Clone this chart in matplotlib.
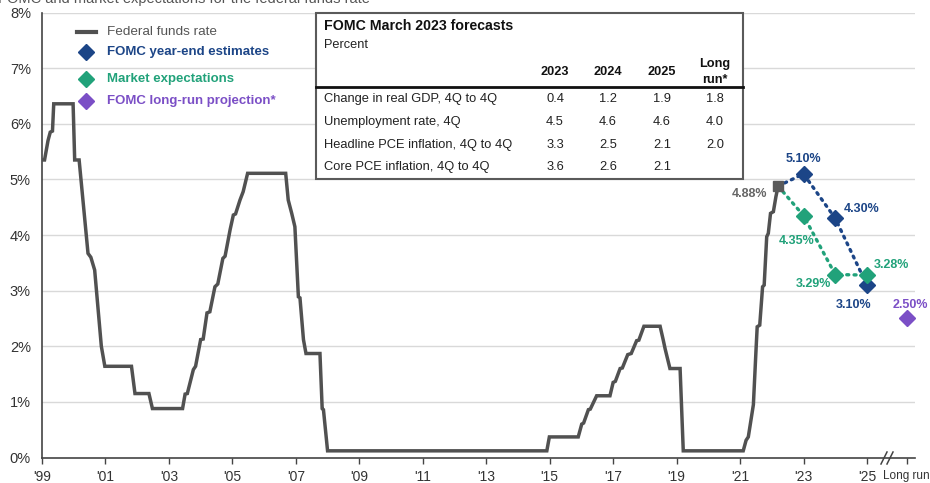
import matplotlib
matplotlib.use("Agg")
import matplotlib.pyplot as plt
from matplotlib.patches import Rectangle

plt.rcParams['font.family'] = ['Liberation Sans', 'DejaVu Sans']

# ---- Federal funds rate (axis-year units, percent) ----
ffr_x = [1999.00, 1999.08, 1999.19, 1999.26, 1999.33, 1999.37, 1999.98, 2000.03, 2000.17,
         2000.45, 2000.54, 2000.66, 2000.87, 2000.98, 2001.82, 2001.93, 2002.37, 2002.48,
         2003.43, 2003.51, 2003.58, 2003.77, 2003.84, 2004.00, 2004.08, 2004.20, 2004.29,
         2004.45, 2004.54, 2004.70, 2004.77, 2004.93, 2005.03, 2005.10, 2005.24, 2005.34,
         2005.48, 2006.68, 2006.76, 2006.87, 2006.97, 2007.08, 2007.13, 2007.24, 2007.32,
         2007.76, 2007.83, 2007.87, 2008.00, 2014.91, 2014.99, 2015.90, 2016.01, 2016.07,
         2016.22, 2016.28, 2016.48, 2016.90, 2017.00, 2017.07, 2017.22, 2017.29, 2017.46,
         2017.57, 2017.74, 2017.81, 2017.97, 2018.48, 2018.58, 2018.64, 2018.79, 2019.11,
         2019.21, 2021.10, 2021.19, 2021.26, 2021.42, 2021.50, 2021.54, 2021.62, 2021.71,
         2021.76, 2021.84, 2021.89, 2021.96, 2022.05, 2022.13, 2022.20]
ffr_y = [5.35, 5.35, 5.70, 5.85, 5.87, 6.36, 6.36, 5.35, 5.35,
         3.67, 3.60, 3.37, 2.00, 1.64, 1.64, 1.15, 1.15, 0.88,
         0.88, 1.14, 1.15, 1.58, 1.64, 2.12, 2.13, 2.60, 2.62,
         3.07, 3.12, 3.58, 3.62, 4.10, 4.36, 4.38, 4.63, 4.78,
         5.11, 5.11, 4.63, 4.39, 4.15, 2.89, 2.87, 2.12, 1.87,
         1.87, 0.88, 0.86, 0.12, 0.12, 0.37, 0.37, 0.60, 0.62,
         0.86, 0.87, 1.11, 1.11, 1.35, 1.37, 1.60, 1.61, 1.85,
         1.87, 2.10, 2.11, 2.36, 2.36, 2.11, 1.95, 1.60, 1.60,
         0.12, 0.12, 0.31, 0.37, 0.95, 1.90, 2.35, 2.38, 3.07,
         3.10, 3.97, 4.03, 4.39, 4.42, 4.69, 4.88]
ffr_last_label = "4.88%"

# ---- Projections ----
proj_x = [2023, 2024, 2025]
fomc_est = [5.10, 4.30, 3.10]
market_exp = [4.35, 3.29, 3.28]
longrun_x = 2026.25
longrun_val = 2.50

# ---- Axis ticks ----
tick_years = list(range(1999, 2026, 2))
tick_labels = ["'%02d" % (y % 100) for y in tick_years]
yticks = list(range(0, 9))
ytick_labels = ["%d%%" % v for v in yticks]

# ---- Table ----
tbl_title = "FOMC March 2023 forecasts"
tbl_sub = "Percent"
tbl_cols = ["2023", "2024", "2025"]
tbl_rows = ["Change in real GDP, 4Q to 4Q", "Unemployment rate, 4Q",
            "Headline PCE inflation, 4Q to 4Q", "Core PCE inflation, 4Q to 4Q"]
tbl_vals = [["0.4", "1.2", "1.9", "1.8"],
            ["4.5", "4.6", "4.6", "4.0"],
            ["3.3", "2.5", "2.1", "2.0"],
            ["3.6", "2.6", "2.1", ""]]

# ---- Legend ----
legend_items = ["Federal funds rate", "FOMC year-end estimates",
                "Market expectations", "FOMC long-run projection*"]

chart_title = "FOMC and market expectations for the federal funds rate"

C_FFR = "#515151"
C_NAVY = "#1c4587"
C_GREEN = "#21a27a"
C_PURPLE = "#7b4fc6"
C_TXT = "#333333"
C_GRID = "#d9d9d9"

W, H = 930, 483
fig = plt.figure(figsize=(W / 100, H / 100), dpi=100)
fig.patch.set_facecolor("white")

left_px, right_px, top_px, bot_px = 42, 915, 12.6, 457.5
ax = fig.add_axes([left_px / W, 1 - bot_px / H, (right_px - left_px) / W, (bot_px - top_px) / H])
ax.set_xlim(1999, 1999 + (right_px - left_px) / 31.73)
ax.set_ylim(0, 8)

for v in yticks[1:]:
    ax.axhline(v, color=C_GRID, lw=1.0, zorder=0)

ax.set_yticks(yticks)
ax.set_yticklabels(ytick_labels)
ax.tick_params(axis="y", length=0, pad=8, labelsize=10.5, labelcolor=C_TXT)
ax.set_xticks(tick_years + [longrun_x])
ax.set_xticklabels(tick_labels + ["Long run"])
ax.tick_params(axis="x", length=4, width=1, color="#444444", pad=5, labelsize=10, labelcolor=C_TXT)
ax.get_xticklabels()[-1].set_fontsize(8.5)

for s in ["top", "right"]:
    ax.spines[s].set_visible(False)
for s in ["left", "bottom"]:
    ax.spines[s].set_color("#444444")
    ax.spines[s].set_linewidth(1.2)

# federal funds rate line
ax.plot(ffr_x, ffr_y, color=C_FFR, lw=2.5, solid_joinstyle="miter", zorder=3)
ax.plot(ffr_x[-1], ffr_y[-1], marker="s", ms=7, color="#5a5a5a", zorder=5)
ax.annotate(ffr_last_label, (ffr_x[-1], ffr_y[-1]), xytext=(-8, -6), textcoords="offset points",
            ha="right", va="center", fontsize=9, fontweight="bold", color="#666666")

# projection paths
ax.plot([ffr_x[-1]] + proj_x, [ffr_y[-1]] + fomc_est, color=C_NAVY, lw=2.4,
        linestyle=(0, (0.6, 1.6)), dash_capstyle="round", zorder=4)
ax.plot([ffr_x[-1]] + proj_x, [ffr_y[-1]] + market_exp, color=C_GREEN, lw=2.4,
        linestyle=(0, (0.6, 1.6)), dash_capstyle="round", zorder=4)
ax.plot(proj_x, fomc_est, "D", ms=8, color=C_NAVY, zorder=6, clip_on=False)
ax.plot(proj_x, market_exp, "D", ms=8, color=C_GREEN, zorder=6, clip_on=False)
ax.plot([longrun_x], [longrun_val], "D", ms=8, color=C_PURPLE, zorder=6, clip_on=False)

def lab(x, y, dx, dy, color, ha="center"):
    ax.annotate("%.2f%%" % y, (x, y), xytext=(dx, dy), textcoords="offset points",
                ha=ha, va="center", fontsize=9, fontweight="bold", color=color)

lab(proj_x[0], fomc_est[0], 0, 11, C_NAVY)
lab(proj_x[1], fomc_est[1], 6, 7, C_NAVY, ha="left")
lab(proj_x[2], fomc_est[2], -10, -14, C_NAVY)
lab(proj_x[0], market_exp[0], -5, -18, C_GREEN)
lab(proj_x[1], market_exp[1], -16, -7, C_GREEN)
lab(proj_x[2], market_exp[2], 5, 7, C_GREEN, ha="left")
lab(longrun_x, longrun_val, 3, 10, C_PURPLE)

# overlay in pixel coordinates for legend, table and axis break
ov = fig.add_axes([0, 0, 1, 1], facecolor="none")
ov.set_xlim(0, W)
ov.set_ylim(H, 0)
ov.axis("off")

# chart title sitting at the very top edge
ov.text(-2, 3, chart_title, fontsize=10.5, color="#555555", va="baseline", ha="left", clip_on=False)

# axis break marks
for bx in (884, 890):
    ov.plot([bx - 3, bx + 3], [464, 452], color="#444444", lw=1.1)

# legend
ov.plot([77, 96], [32, 32], color=C_FFR, lw=3)
ov.text(107, 32, legend_items[0], fontsize=9.7, color="#555555", va="center")
for (yy, c, t) in [(52, C_NAVY, legend_items[1]), (79, C_GREEN, legend_items[2]),
                   (101, C_PURPLE, legend_items[3])]:
    ov.plot([86], [yy], "D", ms=8, color=c)
    ov.text(107, yy, t, fontsize=9.5, color=c, va="center", fontweight="bold")

# forecast table
ov.add_patch(Rectangle((316, 12.7), 743 - 316, 179 - 12.7, facecolor="white",
                       edgecolor="#5a5a5a", lw=1.5, zorder=2))
ov.plot([316, 743], [87, 87], color="#111111", lw=2, zorder=3)
ov.text(324, 26, tbl_title, fontsize=10.2, fontweight="bold", color="#111111", va="center", zorder=3)
ov.text(324, 45, tbl_sub, fontsize=9.2, color="#222222", va="center", zorder=3)
col_x = [555, 608, 662, 715]
for cx, cname in zip(col_x, tbl_cols):
    ov.text(cx, 72, cname, fontsize=9.2, fontweight="bold", ha="center", va="center", color="#111111", zorder=3)
ov.text(col_x[3], 64, "Long", fontsize=9.2, fontweight="bold", ha="center", va="center", color="#111111", zorder=3)
ov.text(col_x[3], 80, "run*", fontsize=9.2, fontweight="bold", ha="center", va="center", color="#111111", zorder=3)
row_y = [99, 122, 145, 167]
for ry, rname, vals in zip(row_y, tbl_rows, tbl_vals):
    ov.text(324, ry, rname, fontsize=9.3, color="#222222", va="center", zorder=3)
    for cx, v in zip(col_x, vals):
        ov.text(cx, ry, v, fontsize=9.3, color="#222222", ha="center", va="center", zorder=3)

fig.savefig("out.png", dpi=100)
